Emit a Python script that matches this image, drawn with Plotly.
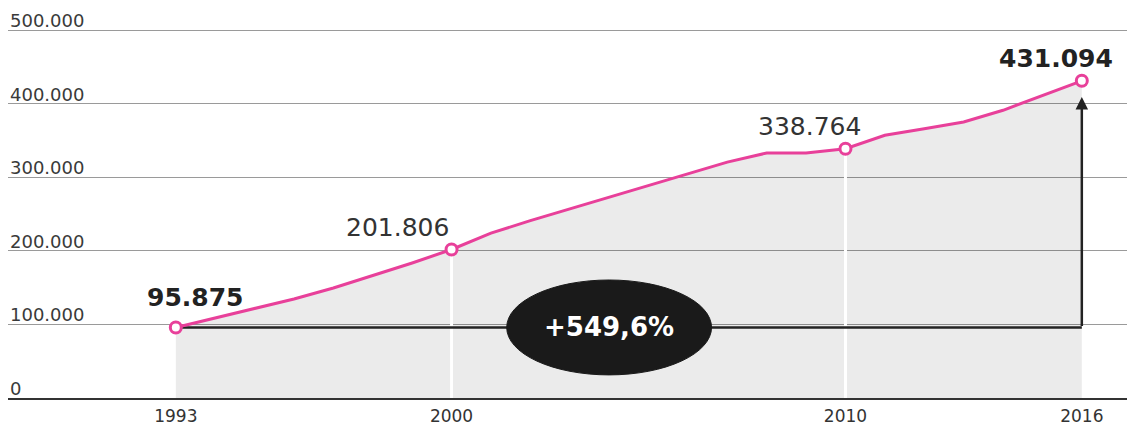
import plotly.graph_objects as go

years = list(range(1993, 2017))
values = [95875, 108500, 121000, 134500, 149500, 166000, 183500, 201806,
          224000, 241000, 257000, 273000, 289000, 305000, 320500, 333000,
          333000, 338764, 357000, 366000, 375000, 391000, 411000, 431094]

highlight_years = [1993, 2000, 2010, 2016]
highlight_labels = ["95.875", "201.806", "338.764", "431.094"]
highlight_bold = [True, False, False, True]
label_shift_x = [19, -54, -36, -26]
label_shift_y = [30, 22, 22, 22]
white_line_years = [2000, 2010]

ytick_vals = [0, 100000, 200000, 300000, 400000, 500000]
ytick_text = ["0", "100.000", "200.000", "300.000", "400.000", "500.000"]
xtick_vals = [1993, 2000, 2010, 2016]

growth_text = "+549,6%"
badge_center_year = 2004
arrow_top_value = 409000

PINK = "#e8409a"
DARK = "#222222"
FONT = "DejaVu Sans"

val_of = dict(zip(years, values))
first_year, last_year = years[0], years[-1]
first_val = values[0]

fig = go.Figure()

# grey area under curve
fig.add_trace(go.Scatter(x=years, y=values, mode="lines", line=dict(width=0),
                         fill="tozeroy", fillcolor="rgba(0,0,0,0.08)",
                         hoverinfo="skip", showlegend=False))

# white vertical lines inside area
for yr in white_line_years:
    fig.add_trace(go.Scatter(x=[yr, yr], y=[0, val_of[yr]], mode="lines",
                             line=dict(color="white", width=3),
                             hoverinfo="skip", showlegend=False))

# baseline from first value to last year
fig.add_trace(go.Scatter(x=[first_year, last_year], y=[first_val, first_val],
                         mode="lines", line=dict(color=DARK, width=2.5),
                         hoverinfo="skip", showlegend=False))

# main line
fig.add_trace(go.Scatter(x=years, y=values, mode="lines",
                         line=dict(color=PINK, width=3),
                         showlegend=False))

# highlighted markers
fig.add_trace(go.Scatter(x=highlight_years, y=[val_of[y] for y in highlight_years],
                         mode="markers",
                         marker=dict(size=11, color="white",
                                     line=dict(color=PINK, width=3)),
                         showlegend=False))

# arrow up at last year
fig.add_annotation(x=last_year, y=arrow_top_value, ax=last_year, ay=first_val,
                   xref="x", yref="y", axref="x", ayref="y",
                   showarrow=True, arrowhead=2, arrowsize=1, arrowwidth=2.5,
                   arrowcolor=DARK, text="")

# badge ellipse
badge_w = 2.6
badge_h = 64500
fig.add_shape(type="circle", xref="x", yref="y",
              x0=badge_center_year - badge_w, x1=badge_center_year + badge_w,
              y0=first_val - badge_h, y1=first_val + badge_h,
              fillcolor="#1a1a1a", line=dict(color="#1a1a1a", width=1), layer="above")
fig.add_annotation(x=badge_center_year, y=first_val, text="<b>" + growth_text + "</b>",
                   showarrow=False, font=dict(family=FONT, size=26, color="white"))

# value labels
for yr, lab, bold, dx, dy in zip(highlight_years, highlight_labels, highlight_bold,
                                 label_shift_x, label_shift_y):
    fig.add_annotation(x=yr, y=val_of[yr], text=("<b>" + lab + "</b>") if bold else lab,
                       showarrow=False, xshift=dx, yshift=dy,
                       font=dict(family=FONT, size=25, color="#222222" if bold else "#333333"))

# y tick labels placed above gridlines, left aligned
for v, t in zip(ytick_vals, ytick_text):
    fig.add_annotation(x=0, xref="paper", y=v, yref="y", text=t,
                       showarrow=False, xanchor="left", yanchor="bottom",
                       xshift=1, yshift=-2, borderpad=0,
                       font=dict(family=FONT, size=18, color="#3a3a3a"))

fig.update_layout(
    width=1127, height=417,
    margin=dict(l=0, r=0, t=0, b=27, autoexpand=False),
    paper_bgcolor="white", plot_bgcolor="white",
    showlegend=False,
    xaxis=dict(range=[1988.74, 2017.35], tickvals=xtick_vals,
               ticktext=[str(v) for v in xtick_vals],
               showgrid=False, zeroline=False, showline=True,
               linecolor="#333333", linewidth=2, ticks="",
               tickfont=dict(family=FONT, size=17, color="#333333"),
               ticklabelstandoff=2, automargin=False),
    yaxis=dict(range=[0, 530000], tickvals=ytick_vals,
               showticklabels=False,
               showgrid=True, gridcolor="#9a9a9a", gridwidth=1,
               zeroline=False, showline=False, automargin=False),
)

fig.write_html("out.html")
